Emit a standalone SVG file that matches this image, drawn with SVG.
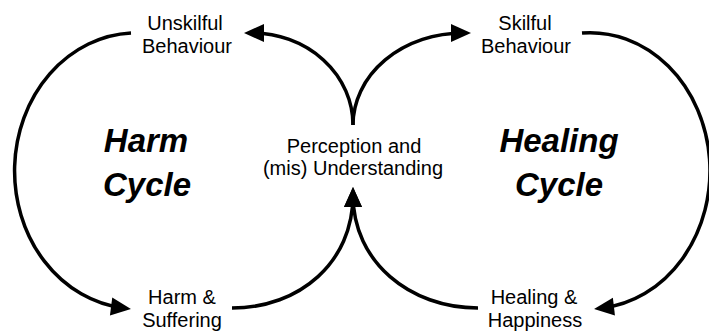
<svg xmlns="http://www.w3.org/2000/svg" width="709" height="331" viewBox="0 0 709 331">
<style>
.lbl{font-family:"Liberation Sans",Arial,sans-serif;font-size:20px;fill:#000;text-anchor:middle}
.big{font-family:"Liberation Sans",Arial,sans-serif;font-size:33px;font-weight:bold;font-style:italic;fill:#000;text-anchor:middle}
.con{fill:none;stroke:#000;stroke-width:3.5;marker-end:url(#ah)}
</style>
<defs>
<marker id="ah" markerUnits="userSpaceOnUse" markerWidth="20" markerHeight="18" refX="12" refY="9" orient="auto" overflow="visible">
<path d="M0,0 L20,9 L0,18 z" fill="#000"/>
</marker>
</defs>
<rect width="709" height="331" fill="#fff"/>
<g id="connectors">
<path class="con" d="M131,33 A122,138 0 0 0 123,308"/>
<path class="con" d="M582,33 A120,138 0 0 1 602,308"/>
<path class="con" d="M353,125 A101,92 0 0 0 252,33"/>
<path class="con" d="M353,125 A110,92 0 0 1 463,33"/>
<path class="con" d="M232,308 C300,308 353,262 353,195"/>
<path class="con" d="M478,308 C410,308 353,262 353,195"/>
</g>
<g id="unskilful"><text class="lbl" x="185" y="30">Unskilful</text><text class="lbl" x="187" y="52.5">Behaviour</text></g>
<g id="skilful"><text class="lbl" x="525" y="30">Skilful</text><text class="lbl" x="526" y="52.5">Behaviour</text></g>
<g id="perception"><text class="lbl" x="354" y="153">Perception and</text><text class="lbl" x="353" y="175">(mis) Understanding</text></g>
<g id="harm-suffering"><text class="lbl" x="182" y="304">Harm &amp;</text><text class="lbl" x="182" y="327">Suffering</text></g>
<g id="healing-happiness"><text class="lbl" x="534" y="304">Healing &amp;</text><text class="lbl" x="535" y="327">Happiness</text></g>
<g id="harm-cycle"><text class="big" x="146" y="152">Harm</text><text class="big" x="147" y="196">Cycle</text></g>
<g id="healing-cycle"><text class="big" x="559" y="152">Healing</text><text class="big" x="559" y="196">Cycle</text></g>
</svg>
